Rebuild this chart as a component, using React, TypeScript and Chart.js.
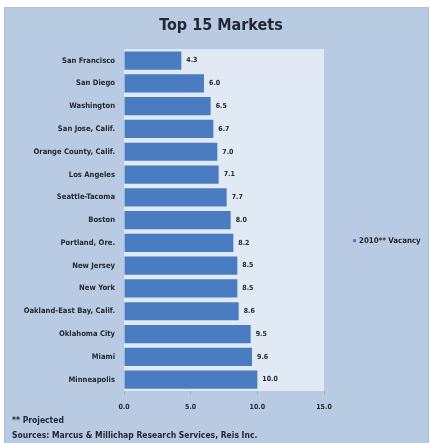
import React, { useEffect, useRef } from "react";
import { Chart, registerables } from "chart.js";

Chart.register(...registerables);

const titleText = "Top 15 Markets";
const categories = [
  "San Francisco",
  "San Diego",
  "Washington",
  "San Jose, Calif.",
  "Orange County, Calif.",
  "Los Angeles",
  "Seattle-Tacoma",
  "Boston",
  "Portland, Ore.",
  "New Jersey",
  "New York",
  "Oakland-East Bay, Calif.",
  "Oklahoma City",
  "Miami",
  "Minneapolis",
];
const vacancy2010 = [4.3, 6.0, 6.5, 6.7, 7.0, 7.1, 7.7, 8.0, 8.2, 8.5, 8.5, 8.6, 9.5, 9.6, 10.0];
const xTicks = [0, 5, 10, 15];
const seriesLabel = "2010** Vacancy";
const footnotes = ["** Projected", "Sources: Marcus & Millichap Research Services, Reis Inc."];

const FONT = "'DejaVu Sans Condensed', 'DejaVu Sans', sans-serif";
const TEXT = "#222833";
const PANEL = "#b9cbe3";
const PLOT = "#e1e9f4";
const BAR = "#4a7cc1";

const backgroundPlugin = {
  id: "bgPanel",
  beforeDraw(chart: any) {
    const { ctx, width, height, chartArea } = chart;
    ctx.save();
    ctx.fillStyle = "#ffffff";
    ctx.fillRect(0, 0, width, height);
    ctx.fillStyle = PANEL;
    ctx.fillRect(4, 7, width - 5, height - 7);
    ctx.strokeStyle = "#aebfd8";
    ctx.lineWidth = 1;
    ctx.strokeRect(4.5, 7.5, width - 6, height - 7);
    ctx.fillStyle = PLOT;
    ctx.fillRect(chartArea.left, chartArea.top, chartArea.right - chartArea.left, chartArea.bottom - chartArea.top);
    ctx.restore();
  },
};

const valueLabelPlugin = {
  id: "valueLabels",
  afterDatasetsDraw(chart: any) {
    const { ctx } = chart;
    const meta = chart.getDatasetMeta(0);
    ctx.save();
    ctx.font = `bold 7px ${FONT}`;
    ctx.fillStyle = TEXT;
    ctx.textAlign = "left";
    ctx.textBaseline = "middle";
    meta.data.forEach((bar: any, i: number) => {
      const v = chart.data.datasets[0].data[i] as number;
      ctx.fillText(v.toFixed(1), bar.x + 5, bar.y);
    });
    ctx.restore();
  },
};

const sideLegendPlugin = {
  id: "sideLegend",
  afterDraw(chart: any) {
    const { ctx, chartArea } = chart;
    const x = chartArea.right + 29;
    const y = chartArea.top + (chartArea.bottom - chartArea.top) * 0.56;
    ctx.save();
    ctx.fillStyle = BAR;
    ctx.fillRect(x, y - 1.5, 3, 3);
    ctx.font = `bold 7.8px ${FONT}`;
    ctx.fillStyle = TEXT;
    ctx.textAlign = "left";
    ctx.textBaseline = "middle";
    ctx.fillText(chart.data.datasets[0].label, x + 6, y);
    ctx.restore();
  },
};

export default function App() {
  const ref = useRef<HTMLCanvasElement | null>(null);

  useEffect(() => {
    if (!ref.current) return;
    const chart = new Chart(ref.current, {
      type: "bar",
      data: {
        labels: categories,
        datasets: [
          {
            label: seriesLabel,
            data: vacancy2010,
            backgroundColor: BAR,
            borderWidth: 0,
            categoryPercentage: 1,
            barPercentage: 0.8,
          },
        ],
      },
      options: {
        indexAxis: "y",
        responsive: false,
        animation: false,
        layout: { padding: { left: 12, right: 0, top: 0, bottom: 0 } },
        plugins: {
          legend: { display: false },
          tooltip: { enabled: false },
          title: {
            display: true,
            text: titleText,
            color: TEXT,
            font: { family: FONT, size: 16, weight: "bold" },
            padding: { top: 16, bottom: 14 },
          },
          subtitle: {
            display: true,
            text: footnotes,
            position: "bottom",
            align: "start",
            color: TEXT,
            font: { family: FONT, size: 8.5, weight: "bold", lineHeight: "15px" },
            padding: { top: 0, bottom: 0 },
          },
        },
        scales: {
          x: {
            type: "linear",
            min: 0,
            max: 15,
            afterBuildTicks: (s: any) => {
              s.ticks = xTicks.map((v) => ({ value: v }));
            },
            afterFit: (s: any) => {
              s.height = 22;
            },
            grid: { drawOnChartArea: false, drawTicks: true, tickLength: 4, color: "#9fb2cd" },
            border: { display: false },
            ticks: {
              padding: 8,
              color: TEXT,
              font: { family: FONT, size: 7, weight: "bold" },
              callback: (v: any) => Number(v).toFixed(1),
            },
          },
          y: {
            afterFit: (s: any) => {
              s.width = 112;
            },
            grid: { display: false, drawTicks: false },
            border: { display: false },
            ticks: {
              padding: 9,
              color: TEXT,
              font: { family: FONT, size: 7.6, weight: "bold" },
            },
          },
          pad: {
            type: "linear",
            position: "right",
            display: true,
            grid: { display: false },
            border: { display: false },
            ticks: { display: false },
            afterFit: (s: any) => {
              s.width = 106;
            },
          },
        },
      } as any,
      plugins: [backgroundPlugin, valueLabelPlugin, sideLegendPlugin],
    });
    return () => chart.destroy();
  }, []);

  return (
    <div style={{ position: "absolute", left: 0, top: 0, width: 430, height: 443 }}>
      <canvas ref={ref} width={430} height={443} style={{ display: "block", width: 430, height: 443 }} />
    </div>
  );
}
